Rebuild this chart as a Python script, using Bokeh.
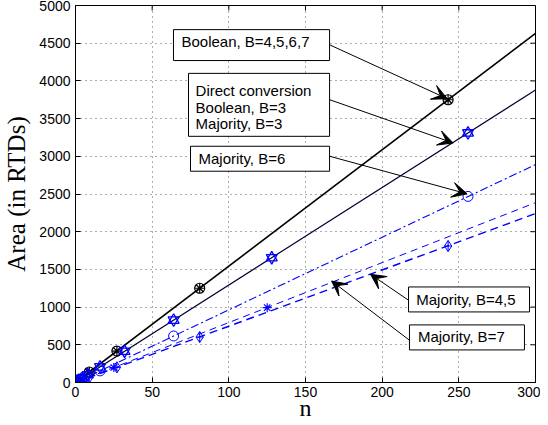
from bokeh.plotting import figure
from bokeh.models import (FixedTicker, BoxAnnotation, Label, Arrow, VeeHead, Range1d)
from bokeh.embed import file_html
from bokeh.resources import INLINE

# ---------------- data ----------------
# Boolean, B=4,5,6,7 (markers)
bool_n = [3, 9, 27, 81, 243]
bool_area = [46, 139, 417, 1250, 3750]
# Direct conversion / Boolean B=3 / Majority B=3
dir_n = [2, 4, 8, 16, 32, 64, 128, 256]
dir_area = [26, 52, 103, 207, 414, 827, 1655, 3310]
# Majority, B=6
maj6_n = [4, 16, 64, 256]
maj6_area = [39, 154, 617, 2468]
# Majority, B=4,5
maj45_n = [5, 25, 125]
maj45_area = [40, 199, 993]
# Majority, B=7
maj7_n = [3, 9, 27, 81, 243]
maj7_area = [22, 67, 201, 603, 1810]

# fitted lines (n = 0 .. 300)
fit_n = [0, 300]
bool_fit = [0, 4630]
dir_fit = [0, 3880]
maj6_fit = [0, 2890]
maj45_fit = [0, 2385]
maj7_fit = [0, 2240]

x_ticks = [0, 50, 100, 150, 200, 250, 300]
y_ticks = [0, 500, 1000, 1500, 2000, 2500, 3000, 3500, 4000, 4500, 5000]
X_MAX = 300
Y_MAX = 5000

BLUE = "#0000ff"
SANS = "Liberation Sans"
SERIF = "Liberation Serif"

p = figure(width=540, height=425, output_backend="svg", toolbar_location=None,
           x_range=Range1d(0, X_MAX), y_range=Range1d(0, Y_MAX),
           min_border_left=75, min_border_right=5, min_border_top=5, min_border_bottom=43)
p.background_fill_color = "white"
p.border_fill_color = "white"
p.outline_line_color = "black"
p.outline_line_width = 1

for ax in (p.xaxis[0], p.yaxis[0]):
    ax.major_tick_in = 5
    ax.major_tick_out = 0
    ax.minor_tick_line_color = None
    ax.axis_line_color = "black"
    ax.major_tick_line_color = "black"
    ax.major_label_text_font = SANS
    ax.major_label_text_font_size = "14px"
    ax.major_label_text_color = "black"
    ax.axis_label_text_font = SERIF
    ax.axis_label_text_font_style = "normal"
    ax.axis_label_text_color = "black"

p.xaxis.ticker = FixedTicker(ticks=x_ticks)
p.yaxis.ticker = FixedTicker(ticks=y_ticks)
p.xaxis.major_label_standoff = 4
p.xaxis.axis_label = "n"
p.xaxis.axis_label_text_font_size = "24px"
p.xaxis.axis_label_standoff = -5
p.yaxis.axis_label = "Area (in RTDs)"
p.yaxis.axis_label_text_font_size = "25px"
p.yaxis.axis_label_standoff = 6
p.yaxis.major_label_standoff = 5

# inward ticks on the top and right edges of the box
tick_dy = Y_MAX * 5 / 378
tick_dx = X_MAX * 5 / 460
p.segment(x0=x_ticks, y0=[Y_MAX] * len(x_ticks), x1=x_ticks, y1=[Y_MAX - tick_dy] * len(x_ticks),
          line_color="black", line_width=1)
p.segment(x0=[X_MAX] * len(y_ticks), y0=y_ticks, x1=[X_MAX - tick_dx] * len(y_ticks), y1=y_ticks,
          line_color="black", line_width=1)

p.xgrid.ticker = FixedTicker(ticks=x_ticks)
p.ygrid.ticker = FixedTicker(ticks=y_ticks)
for g in (p.xgrid[0], p.ygrid[0]):
    g.grid_line_color = "#333333"
    g.grid_line_dash = "1 4"
    g.grid_line_width = 1
    g.grid_line_alpha = 0.8

# ---------------- lines ----------------
p.line(fit_n, bool_fit, line_color="black", line_width=1.6)
p.line(fit_n, dir_fit, line_color="#000033", line_width=1.2)
p.line(fit_n, maj6_fit, line_color=BLUE, line_width=1.1, line_dash="8 3 2 3")
p.line(fit_n, maj45_fit, line_color=BLUE, line_width=1, line_dash="7 5")
p.line(fit_n, maj7_fit, line_color=BLUE, line_width=1.4, line_dash="8 5")

# ---------------- markers ----------------
p.scatter(bool_n, bool_area, marker="circle", size=10, fill_color=None, line_color="black", line_width=1.2)
p.scatter(bool_n, bool_area, marker="asterisk", size=10, line_color="black", line_width=1.2)
p.scatter(dir_n, dir_area, marker="triangle", size=11, fill_color=None, line_color=BLUE, line_width=1.3)
p.scatter(dir_n, dir_area, marker="inverted_triangle", size=11, fill_color=None, line_color=BLUE, line_width=1.3)
p.scatter(maj6_n, maj6_area, marker="circle", size=10, fill_color=None, line_color=BLUE, line_width=1)
p.scatter(maj45_n, maj45_area, marker="asterisk", size=9, line_color=BLUE, line_width=1.2)
p.scatter(maj7_n, maj7_area, marker="diamond_cross", size=11, fill_color=None, line_color=BLUE, line_width=1)

# ---------------- annotation boxes ----------------
boxes = [
    (63.9, 165.7, 4270, 4680),
    (73.7, 165.7, 3265, 4100),
    (75.0, 165.7, 2802, 3133),
    (217.2, 296.1, 936, 1267),
    (217.8, 292.8, 432, 764),
]
for l, r, b, t in boxes:
    p.add_layout(BoxAnnotation(left=l, right=r, bottom=b, top=t, fill_color="white",
                               fill_alpha=1, line_color="black", line_width=1, line_alpha=1))

texts = [
    (69.1, 4523, "Boolean, B=4,5,6,7"),
    (78.3, 3872, "Direct conversion"),
    (78.3, 3652, "Boolean, B=3"),
    (78.3, 3440, "Majority, B=3"),
    (80.2, 2974, "Majority, B=6"),
    (222.2, 1104, "Majority, B=4,5"),
    (223.3, 605, "Majority, B=7"),
]
for x, y, t in texts:
    p.add_layout(Label(x=x, y=y, text=t, text_font=SANS, text_font_size="15px",
                       text_align="left", text_baseline="middle", text_color="black"))

arrows = [
    (165.7, 4479, 242.4, 3764),
    (165.7, 3751, 246.3, 3177),
    (165.7, 3001, 255.4, 2502),
    (217.2, 1091, 192.4, 1435),
    (217.8, 561, 167.0, 1346),
]
for xs, ys, xe, ye in arrows:
    p.add_layout(Arrow(end=VeeHead(size=15, fill_color="black", line_color="black"),
                       x_start=xs, y_start=ys, x_end=xe, y_end=ye,
                       line_color="black", line_width=1))

open("out.html", "w").write(file_html(p, INLINE))
